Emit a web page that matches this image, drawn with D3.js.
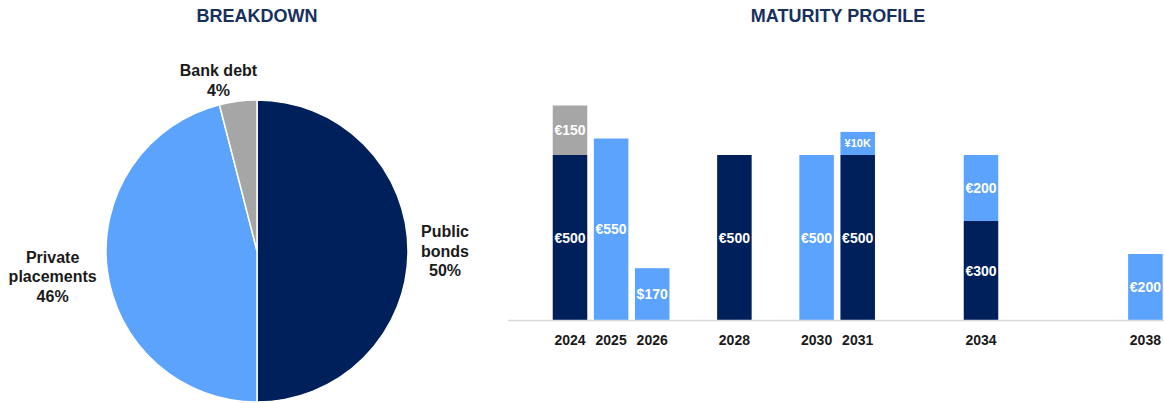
<!DOCTYPE html>
<html>
<head>
<meta charset="utf-8">
<script src="https://cdn.jsdelivr.net/npm/d3@7"></script>
<style>
  body { margin: 0; background: #fff; }
  svg { display: block; font-family: "Liberation Sans", Arial, sans-serif; }
</style>
</head>
<body>
<svg id="chart" width="1164" height="403"></svg>
<script>
// pie: debt breakdown
const pieNames = [["Public", "bonds"], ["Private", "placements"], ["Bank debt"]];
const pieShares = [50, 46, 4];

// bars: maturity profile (EUR-equivalent heights, labels as shown)
const years = ["2024", "2025", "2026", "2028", "2030", "2031", "2034", "2038"];
const publicBonds = [500, 0, 0, 500, 0, 500, 300, 0];
const privatePlacements = [0, 550, 157, 0, 500, 70, 200, 200];
const bankDebt = [150, 0, 0, 0, 0, 0, 0, 0];
const publicLabels = ["€500", "", "", "€500", "", "€500", "€300", ""];
const privateLabels = ["", "€550", "$170", "", "€500", "¥10K", "€200", "€200"];
const bankLabels = ["€150", "", "", "", "", "", "", ""];

const navy = "#00205c", lightBlue = "#5ca3fe", grey = "#a6a6a6";
const colors = [navy, lightBlue, grey];
const titleColor = "#16305e";

var svg = d3.select("#chart");

// titles
svg.append("text").attr("x", 257).attr("y", 22).attr("text-anchor", "middle")
    .attr("font-size", 18).attr("font-weight", "bold").attr("fill", titleColor)
    .text("BREAKDOWN");
svg.append("text").attr("x", 838).attr("y", 22).attr("text-anchor", "middle")
    .attr("font-size", 18).attr("font-weight", "bold").attr("fill", titleColor)
    .text("MATURITY PROFILE");

// ---- pie ----
var radius = 151;
var pieG = svg.append("g").attr("transform", "translate(257,251)");
var pie = d3.pie().sort(null).value(d => d);
var arcs = pie(pieShares);
var arc = d3.arc().innerRadius(0).outerRadius(radius);

pieG.selectAll("path")
    .data(arcs)
    .enter()
    .append("path")
    .attr("d", arc)
    .attr("fill", (d, i) => colors[i])
    .attr("stroke", "#fff")
    .attr("stroke-width", 1.5);

// label radius per slice, tuned by eye
var labelRadius = [188, 206, 172];
var labelShift = [0, 0, -17];
arcs.forEach(function(d, i) {
    var la = d3.arc().innerRadius(labelRadius[i]).outerRadius(labelRadius[i]);
    var c = la.centroid(d);
    var lines = pieNames[i].concat([pieShares[i] + "%"]);
    var lh = 19.5;
    var t = pieG.append("text")
        .attr("text-anchor", "middle")
        .attr("font-size", 16)
        .attr("font-weight", "bold")
        .attr("fill", "#1a1a1a");
    lines.forEach(function(l, k) {
        t.append("tspan")
            .attr("x", c[0] + labelShift[i])
            .attr("y", c[1] + (k - (lines.length - 1) / 2) * lh + 5.5)
            .text(l);
    });
});

// ---- bars ----
var allYears = d3.range(2024, 2039).map(String);
var x = d3.scaleBand()
    .domain(allYears)
    .range([549.45, 1165.95])
    .paddingInner(0.16)
    .paddingOuter(0.08);
var y = d3.scaleLinear().domain([0, 700]).range([320, 89]);

var rows = years.map((yr, i) => ({
    year : yr,
    pub : publicBonds[i],
    priv : privatePlacements[i],
    bank : bankDebt[i]
}));
var keys = ["pub", "priv", "bank"];
var labelSets = [publicLabels, privateLabels, bankLabels];
var stacked = d3.stack().keys(keys)(rows);

var barG = svg.append("g");
stacked.forEach(function(layer, li) {
    layer.forEach(function(seg, i) {
        if (seg[1] - seg[0] <= 0) return;
        var yr = seg.data.year;
        barG.append("rect")
            .attr("x", x(yr))
            .attr("width", x.bandwidth())
            .attr("y", y(seg[1]))
            .attr("height", y(seg[0]) - y(seg[1]))
            .attr("fill", colors[li]);
        var lab = labelSets[li][i];
        if (lab) {
            var small = lab.indexOf("¥") === 0;
            barG.append("text")
                .attr("x", x(yr) + x.bandwidth() / 2)
                .attr("y", (y(seg[0]) + y(seg[1])) / 2)
                .attr("dy", "0.36em")
                .attr("text-anchor", "middle")
                .attr("font-size", small ? 11 : 14)
                .attr("font-weight", "bold")
                .attr("fill", "#fff")
                .text(lab);
        }
    });
});

// baseline
svg.append("line")
    .attr("x1", 508).attr("x2", 1164)
    .attr("y1", y(0) + 0.5).attr("y2", y(0) + 0.5)
    .attr("stroke", "#d9d9d9")
    .attr("stroke-width", 1.5);

// x axis
var xAxis = svg.append("g")
    .attr("transform", "translate(0," + y(0) + ")")
    .call(d3.axisBottom(x).tickValues(years).tickSize(0).tickPadding(15));
xAxis.select(".domain").remove();
xAxis.selectAll("text")
    .attr("font-size", 14)
    .attr("font-weight", "bold")
    .attr("font-family", "Liberation Sans, Arial, sans-serif")
    .attr("fill", "#1a1a1a");
</script>
</body>
</html>
